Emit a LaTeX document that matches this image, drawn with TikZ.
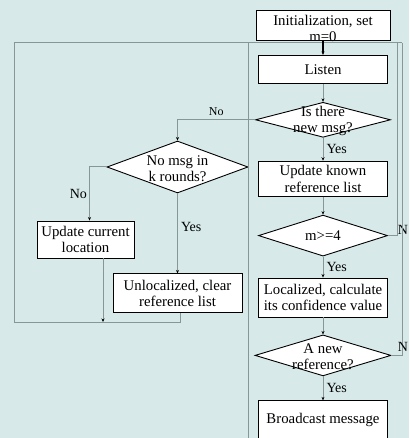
\documentclass[tikz,border=0pt]{standalone}
\usepackage{fontspec}
\setmainfont{Liberation Serif}
\usepackage{xcolor}
\usetikzlibrary{shapes.geometric, arrows.meta, positioning}
\definecolor{bgcol}{RGB}{215,234,233}
\definecolor{linegray}{RGB}{135,150,150}
\tikzstyle{process} = [rectangle, draw=black, fill=white, line width=0.9pt, minimum width=129pt, inner sep=2pt, align=center, font=\fontsize{14.8}{16.5}\selectfont]
\tikzstyle{decision} = [diamond, draw=black, fill=white, line width=0.9pt, inner sep=0pt]
\tikzstyle{dtext} = [align=center, font=\fontsize{14.8}{16.5}\selectfont]
\tikzstyle{arrow} = [draw=linegray, line width=1pt, -{Stealth[length=3.5pt, width=3pt, black]}]
\tikzstyle{link} = [draw=linegray, line width=1pt, -]
\tikzstyle{ans} = [font=\fontsize{14}{16}\selectfont, inner sep=3pt]

\begin{document}
\begin{tikzpicture}[x=1pt, y=-1pt]
\path [use as bounding box, fill=bgcol] (0,0) rectangle (409,438);

% main column
\node (init) [process, minimum width=134pt, minimum height=30pt, label={[dtext, yshift=-3pt]center:Initialization, set\\m=0}] at (323,25.5) {};
\node (listen) [process, minimum height=28pt, below=14pt of init] {Listen};
\node (msg) [decision, minimum width=135pt, minimum height=35pt, below=18pt of listen, label={[dtext, yshift=-1pt]center:Is there\\new msg?}] {};
\node (known) [process, minimum height=35pt, below=23pt of msg] {Update known\\reference list};
\node (enough) [decision, minimum width=129pt, minimum height=41pt, below=18pt of known, label={[dtext]center:m>=4}] {};
\node (loc) [process, minimum height=39pt, below=21pt of enough] {Localized, calculate\\its confidence value};
\node (newref) [decision, minimum width=136pt, minimum height=41pt, below=17pt of loc, label={[dtext, yshift=-1.5pt]center:A new\\reference?}] {};
\node (bcast) [process, minimum height=39pt, below=24pt of newref] {Broadcast message};

% left branch
\node (nomsg) [decision, minimum width=141pt, minimum height=52pt, label={[dtext, yshift=-1.5pt]center:No msg in\\k rounds?}] at (177.5,167) {};
\node (curloc) [process, minimum width=97pt, minimum height=37pt] at (85.5,239.5) {Update current\\location};
\node (unloc) [process, minimum height=39pt, below=80pt of nomsg] {Unlocalized, clear\\reference list};

\coordinate (topL) at (14,43);
\coordinate (topR) at (402,43);
\coordinate (botL) at (14,322);
\coordinate (midTop) at (248,43);
\coordinate (midBot) at (248,438);
\coordinate (exit) at (323,438);

% loops
\draw [link] ([xshift=2.5pt]unloc.south) |- (botL) -- (topL) -- (topR);
\draw [link] (midBot) -- (midTop);
\draw [link] (enough.east) -| node [ans, pos=0.5, xshift=6pt, yshift=5.5pt, inner sep=0pt] {N} ([xshift=-5pt]topR);
\draw [link] (newref.east) -| node [ans, pos=0.5, xshift=1pt, yshift=8pt, inner sep=0pt] {N} (topR);
\draw [link] (bcast) -- (exit);

\draw [arrow, draw=black, line width=1.3pt] (init) -- (listen);
\draw [arrow] (listen) -- (msg);
\draw [arrow] (msg) -- node [ans, right] {Yes} (known);
\draw [arrow] (known) -- (enough);
\draw [arrow] (enough) -- node [ans, right] {Yes} (loc);
\draw [arrow] (loc) -- (newref);
\draw [arrow] (newref) -- node [ans, right] {Yes} (bcast);
\draw [arrow] (msg.west) -| node [pos=0.25, above, font=\fontsize{12}{14}\selectfont] {No} (nomsg.north);
\draw [arrow] (nomsg.west) -| node [ans, pos=0.75, left, inner sep=2pt] {No} ([xshift=4pt]curloc.north);
\draw [arrow] (nomsg.south) -- node [ans, pos=0.42, right] {Yes} (unloc.north);
\draw [arrow] ([xshift=17.5pt]curloc.south) -- ([xshift=17.5pt]curloc.south |- botL);
\end{tikzpicture}
\end{document}
